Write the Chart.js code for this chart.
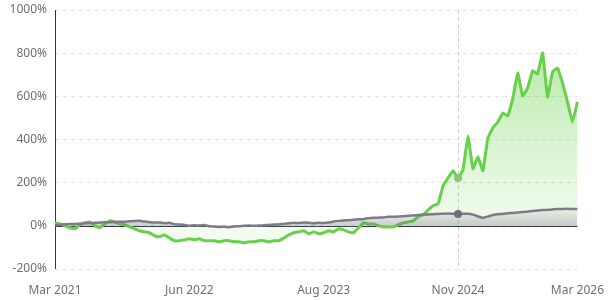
<!DOCTYPE html>
<html>
<head>
<meta charset="utf-8">
<script src="https://cdn.jsdelivr.net/npm/chart.js@4.4.0/dist/chart.umd.min.js"></script>
<style>
  html, body { margin: 0; padding: 0; background: #fff; }
  #wrap { width: 610px; height: 300px; }
</style>
</head>
<body>
<div id="wrap"><canvas id="c" width="610" height="300"></canvas></div>
<script>
// 策略累計報酬 (%)
const strategy = [
  14, 9, 0, -9, -14, 5, 14, 18, 0, -9,
  9, 23, 18, 9, 5, -5, -14, -23, -28, -32,
  -46, -51, -42, -56, -69, -69, -65, -60, -65, -60,
  -69, -69, -69, -74, -69, -69, -74, -74, -79, -74,
  -74, -69, -69, -74, -69, -69, -56, -42, -32, -28,
  -23, -37, -28, -37, -32, -23, -28, -14, -19, -28,
  -32, -9, 14, 9, 9, 0, -5, -5, -5, 5,
  14, 18, 23, 42, 51, 74, 93, 102, 185, 222,
  255, 222, 259, 415, 265, 320, 255, 407, 454, 481,
  523, 509, 588, 708, 602, 639, 718, 704, 801, 597,
  713, 731, 662, 574, 481, 574
];
// 基準 (%)
const benchmark = [
  3, 5, 7, 8, 9, 10, 12, 13, 14, 15,
  17, 17, 18, 19, 19, 21, 22, 23, 20, 17,
  15, 16, 12, 14, 8, 6, 4, 0, 3, 1,
  4, -2, -3, -5, -4, -6, -3, -2, 0, 2,
  0, 1, 3, 4, 6, 7, 9, 12, 14, 13,
  15, 14, 12, 14, 13, 15, 20, 23, 25, 26,
  28, 30, 32, 35, 37, 38, 39, 42, 42, 43,
  44, 47, 48, 50, 52, 53, 54, 55, 56, 57,
  56, 55, 56, 56, 52, 44, 37, 43, 50, 54,
  55, 58, 60, 62, 64, 66, 69, 71, 73, 74,
  76, 78, 78, 79, 78, 78
];
const tickLabels = ['Mar 2021', 'Jun 2022', 'Aug 2023', 'Nov 2024', 'Mar 2026'];
const tickIndex = [0, 27, 54, 81, 105];
const yTicks = [-200, 0, 200, 400, 600, 800, 1000];
const hoverIndex = 81;

const GREEN = '#67d14a';
const GRAY = '#7d7b86';

// 十字線 + 零軸 + Y 軸線
const overlay = {
  id: 'overlay',
  beforeDatasetsDraw(chart) {
    const { ctx, chartArea: a, scales: { x, y } } = chart;
    ctx.save();
    const px = Math.round(x.getPixelForValue(hoverIndex)) + 0.5;
    ctx.strokeStyle = '#cfcfcf';
    ctx.lineWidth = 1;
    ctx.setLineDash([4, 3]);
    ctx.beginPath();
    ctx.moveTo(px, a.top);
    ctx.lineTo(px, a.bottom);
    ctx.stroke();
    ctx.setLineDash([]);
    ctx.strokeStyle = '#2f3a44';
    const py = Math.round(y.getPixelForValue(0)) + 0.5;
    ctx.beginPath();
    ctx.moveTo(a.left, py);
    ctx.lineTo(a.right, py);
    const lx = Math.round(a.left) + 0.5;
    ctx.moveTo(lx, a.top);
    ctx.lineTo(lx, a.bottom);
    ctx.stroke();
    ctx.restore();
  }
};

function grad(ctx, stops) {
  const { chart } = ctx;
  const { chartArea, scales } = chart;
  if (!chartArea) return 'transparent';
  const y = scales.y;
  const g = chart.ctx.createLinearGradient(0, y.getPixelForValue(stops[0][0]), 0, y.getPixelForValue(stops[1][0]));
  g.addColorStop(0, stops[0][1]);
  g.addColorStop(1, stops[1][1]);
  return g;
}

new Chart(document.getElementById('c'), {
  type: 'line',
  data: {
    labels: strategy.map((_, i) => i),
    datasets: [
      {
        label: '基準',
        data: benchmark,
        borderColor: GRAY,
        borderWidth: 2.5,
        backgroundColor: ctx => grad(ctx, [[80, 'rgba(110,108,120,0.05)'], [0, 'rgba(110,108,120,0.35)']]),
        fill: 'origin',
        tension: 0.1,
        pointRadius: c => c.dataIndex === hoverIndex ? 4 : 0,
        pointBackgroundColor: '#6f6d78',
        pointBorderWidth: 0,
        order: 1
      },
      {
        label: '策略',
        data: strategy,
        borderColor: GREEN,
        borderWidth: 3,
        backgroundColor: ctx => grad(ctx, [[800, 'rgba(103,209,74,0.45)'], [0, 'rgba(103,209,74,0.08)']]),
        fill: 'origin',
        tension: 0.1,
        pointRadius: c => c.dataIndex === hoverIndex ? 4 : 0,
        pointBackgroundColor: '#86c975',
        pointBorderWidth: 0,
        order: 2
      }
    ]
  },
  options: {
    responsive: false,
    animation: false,
    layout: { padding: { top: 10, right: 30, left: 0, bottom: 0 } },
    plugins: { legend: { display: false }, tooltip: { enabled: false } },
    scales: {
      x: {
        type: 'category',
        offset: false,
        grid: { display: false },
        border: { display: false },
        afterBuildTicks: s => { s.ticks = tickIndex.map(v => ({ value: v })); },
        afterFit: s => { s.height = 31; },
        ticks: {
          autoSkip: false,
          maxRotation: 0,
          padding: 6,
          color: '#6e7079',
          font: { family: 'Noto Sans', size: 12 },
          callback: (v, i) => tickLabels[i]
        }
      },
      y: {
        min: -200,
        max: 1000,
        afterBuildTicks: s => { s.ticks = yTicks.map(v => ({ value: v })); },
        afterFit: s => { s.width = 55; s.paddingTop = 0; s.paddingBottom = 0; },
        grid: { color: '#e3e3e3', drawTicks: false },
        border: { display: false, dash: [4, 4] },
        ticks: {
          padding: 8,
          color: '#6e7079',
          font: { family: 'Noto Sans', size: 12 },
          callback: v => v + '%'
        }
      }
    }
  },
  plugins: [overlay]
});
</script>
</body>
</html>
